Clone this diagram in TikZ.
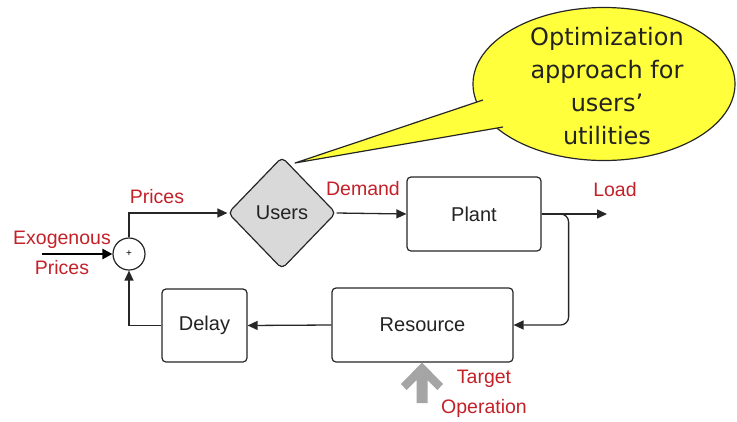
\documentclass[tikz,border=0pt]{standalone}
\usepackage{fontspec}
\setmainfont{Liberation Sans}
\newfontfamily\calloutfont{DejaVu Sans}
\usetikzlibrary{shapes.geometric,arrows.meta}
\definecolor{lblred}{RGB}{196,32,40}
\definecolor{callyellow}{RGB}{255,255,60}
\definecolor{usergray}{RGB}{217,217,217}
\definecolor{tgtgray}{RGB}{165,165,165}
\definecolor{txtdark}{RGB}{35,35,35}
\begin{document}
\begin{tikzpicture}[x=1pt,y=-1pt,
  blk/.style={draw=black!85, line width=1.2pt, rounded corners=4pt, fill=white, font=\fontsize{20}{22}\selectfont, text=txtdark, inner sep=0pt},
  lbl/.style={text=lblred, font=\fontsize{19.5}{22}\selectfont, inner sep=0pt},
  conn/.style={draw=black!85, line width=1.3pt, -{Triangle[length=10pt,width=9pt]}}
]
\useasboundingbox (0,0) rectangle (737,421);

% callout
\coordinate (tip) at (295,163);
\coordinate (b1) at (483,100);
\coordinate (b2) at (503,127);
\node[ellipse, draw=black!85, line width=1.2pt, fill=callyellow, minimum width=262pt, minimum height=153pt, inner sep=0pt] (bubble) at (604,84) {};
\fill[callyellow] (tip) -- (b1) -- (b2) -- cycle;
\draw[black!85, line width=1.2pt, line join=round] (b1) -- (tip) -- (b2);
\node[align=center, font=\calloutfont\fontsize{24}{33}\selectfont, text=txtdark, inner sep=0pt] (ctext) at (607,86) {Optimization\\approach for\\users’\\utilities};

% blocks
\node[circle, draw=black!85, line width=1.2pt, fill=white, minimum size=32pt, inner sep=0pt, font=\fontsize{10}{10}\selectfont] (sum) at (129,254) {+};
\node[diamond, draw=black!85, line width=1.2pt, rounded corners=5pt, fill=usergray, minimum width=108pt, minimum height=112pt, inner sep=0pt, font=\fontsize{20}{22}\selectfont, text=txtdark] (users) at (282,213) {Users};
\node[blk, minimum width=134pt, minimum height=74pt] (plant) at (474,214) {Plant};
\node[blk, minimum width=181pt, minimum height=74pt] (resource) at (422.5,325) {Resource};
\node[blk, minimum width=85pt, minimum height=73pt] (delay) at (204.5,325.5) {Delay};

\coordinate (exo) at (42,254);
\coordinate (load) at (607,214);
\coordinate (tgt) at (422,403);

% connectors
\draw[conn] (sum.north) |- (users.west);
\draw[conn] (users.east) -- (plant.west);
\draw[conn] (plant.east) -- (load);
\draw[conn, rounded corners=8pt] (plant.east) -- ++(27,0) |- (resource.east);
\draw[conn] (resource.west) -- (delay.east);
\draw[conn] (delay.west) -| (sum.south);
\draw[black, line width=2.6pt, -{Triangle[length=10pt,width=10pt]}] (exo) -- (sum.west);

% target arrow
\fill[tgtgray] (422,362.5) -- (443,384) -- (437.5,390) -- (427.5,380) -- (427.5,403) -- (416.5,403) -- (416.5,380) -- (406.5,390) -- (401,384) -- cycle;

% labels
\node[lbl] (lprices) at (157,197) {Prices};
\node[lbl] (lexo1) at (62,240) {Exogenous};
\node[lbl] (lexo2) at (62,268) {Prices};
\node[lbl] (ldemand) at (363,189) {Demand};
\node[lbl] (lload) at (615,190) {Load};
\node[lbl] (ltarget1) at (484,379) {Target};
\node[lbl] (ltarget2) at (484,408) {Operation};
\end{tikzpicture}
\end{document}
